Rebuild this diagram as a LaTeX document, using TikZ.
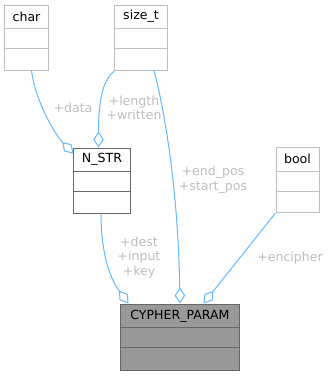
\documentclass[tikz,border=0pt]{standalone}
\usepackage{fontspec}
\setmainfont{DejaVu Sans}
\usetikzlibrary{arrows.meta}
\definecolor{edgeBlue}{HTML}{63B8FF}
\definecolor{extBorder}{HTML}{BFBFBF}
\definecolor{mainBorder}{HTML}{666666}
\definecolor{mainFill}{HTML}{999999}
\definecolor{memberText}{HTML}{BDBDBD}
\tikzset{
    extbox/.style={
        rectangle,
        draw=extBorder,
        fill=white,
        line width=1bp,
        minimum height=65bp,
        inner sep=0pt
    },
    usedbox/.style={
        extbox,
        draw=mainBorder
    },
    rootbox/.style={
        extbox,
        draw=mainBorder,
        fill=mainFill,
        minimum height=66bp
    },
    classname/.style={
        font=\fontsize{12.6}{14.5}\selectfont,
        text=black,
        inner sep=0pt
    },
    membername/.style={
        font=\fontsize{12.6}{14.5}\selectfont,
        text=memberText,
        align=center,
        inner sep=0pt
    },
    usage/.style={
        {Diamond[open, length=16bp, width=10.5bp]}-,
        draw=edgeBlue,
        line width=1bp
    }
}

\begin{document}
\begin{tikzpicture}[x=1bp,y=-1bp]
    \useasboundingbox (0,0) rectangle (329,376);

    % Class boxes
    \node[extbox, minimum width=43bp] (char) at (26.5,37.5) {};
    \node[extbox, minimum width=52bp] (sizet) at (141,37.5) {};
    \node[usedbox, minimum width=56bp] (nstr) at (102,180.5) {};
    \node[extbox, minimum width=43bp] (bool) at (297.5,180) {};
    \node[rootbox, minimum width=118bp] (cypher) at (180,337) {};

    % Class names in the title rows
    \node[classname] (char-title) at ([yshift=-12bp]char.north) {char};
    \node[classname] (sizet-title) at ([yshift=-12bp]sizet.north) {size\_t};
    \node[classname] (nstr-title) at ([yshift=-12bp]nstr.north) {N\_STR};
    \node[classname] (bool-title) at ([yshift=-12bp]bool.north) {bool};
    \node[classname] (cypher-title) at ([yshift=-12.5bp]cypher.north) {CYPHER\_PARAM};

    % Attribute and method compartments
    \foreach \cls/\col in {char/extBorder, sizet/extBorder, bool/extBorder, nstr/mainBorder, cypher/mainBorder} {
        \foreach \dy in {24,44} {
            \draw[\col, line width=1bp]
                ([yshift=-\dy bp]\cls.north west) -- ([yshift=-\dy bp]\cls.north east);
        }
    }

    % Member relationships
    \draw[usage] ([yshift=-6bp]nstr.north west)
        .. controls (58,138) and (36,105) .. ([xshift=5bp]char.south);
    \draw[usage] ([xshift=-3.5bp]nstr.north)
        .. controls (98.5,95) and (104,80) .. (sizet.south west);
    \draw[usage] (cypher.north)
        .. controls (178,180) and (162,100) .. ([xshift=13bp]sizet.south);
    \draw[usage] ([xshift=8bp]cypher.north west)
        .. controls (114,284) and (101,262) .. ([xshift=-1bp]nstr.south);
    \draw[usage] ([xshift=83bp]cypher.north west) -- (bool.south west);

    % Member names
    \node[membername] (data-label) at (73,108) {+data};
    \node[membername] (length-label) at (134,108) {+length\\+written};
    \node[membername] (pos-label) at (213,179.5) {+end\_pos\\+start\_pos};
    \node[membername] (nstr-label) at (139,257.5) {+dest\\+input\\+key};
    \node[membername] (encipher-label) at (290,258) {+encipher};

\end{tikzpicture}
\end{document}
